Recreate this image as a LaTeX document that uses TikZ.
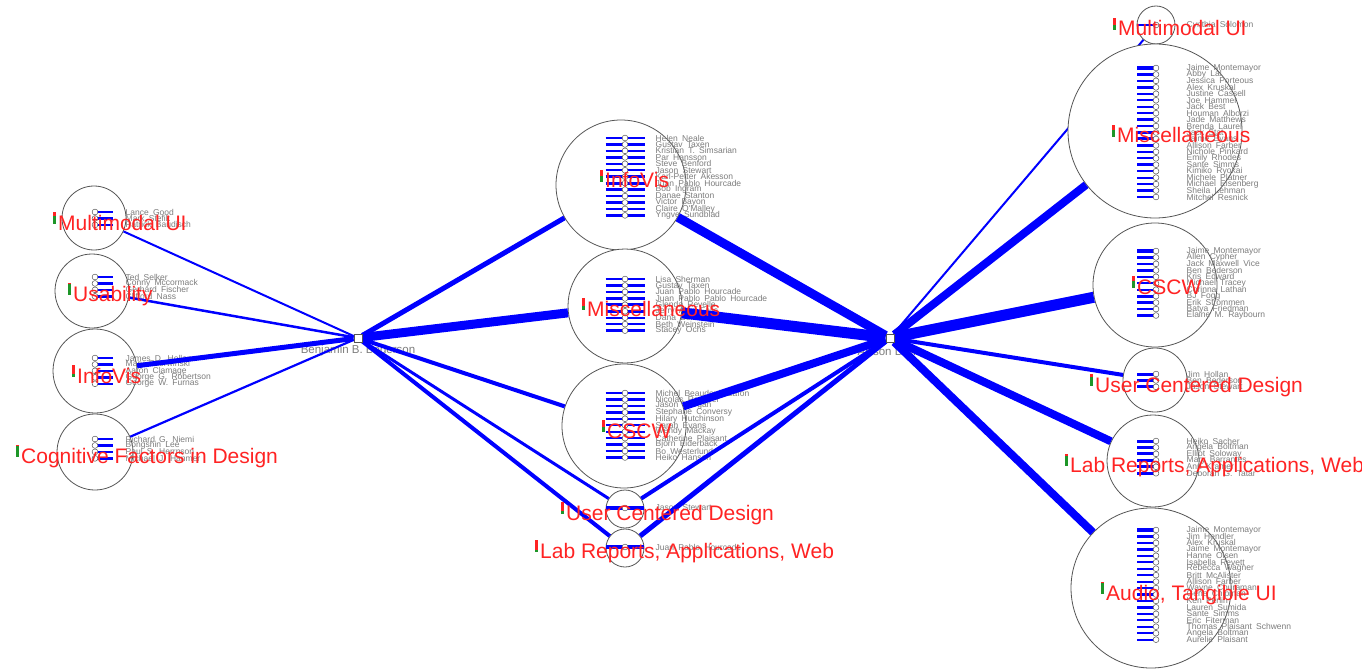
\documentclass[tikz,border=0pt]{standalone}
\usepackage{fontspec}
\setmainfont{Liberation Sans}
\newfontfamily\namefont[WordSpace=1.8]{Liberation Sans}

\definecolor{catred}{RGB}{255,35,35}
\definecolor{catgreen}{RGB}{30,150,40}
\definecolor{edgeblue}{RGB}{0,0,255}
\definecolor{namegray}{RGB}{125,125,125}
\definecolor{ringgray}{RGB}{85,85,85}

\pgfdeclarelayer{bottom}
\pgfdeclarelayer{edges}
\pgfdeclarelayer{top}
\pgfsetlayers{bottom,main,edges,top}

\tikzset{
  group/.style={circle, draw=ringgray, line width=0.8pt, fill=white, inner sep=0pt, minimum size=#1},
  link/.style={draw=edgeblue, line width=#1},
  hub/.style={rectangle, draw=ringgray, fill=white, minimum size=8pt, inner sep=0pt, line width=0.8pt},
  hubname/.style={font=\fontsize{11.5}{11.5}\selectfont, text=namegray, inner sep=0pt},
  member/.style={font=\namefont\fontsize{8.5}{8.5}\selectfont, text=namegray, anchor=west, inner sep=0pt},
  memberdot/.style={circle, draw=ringgray, fill=white, minimum size=5.8pt, inner sep=0pt, line width=0.5pt},
  category/.style={font=\fontsize{21}{21}\selectfont, text=catred, anchor=base west, inner sep=0pt},
}

% one row per member: bar, dot and name; #1 dot x, #2 first row y,
% #3/#4 bar ends, #5 list of bar width/name
\newcommand\roster[5]{%
  \foreach \w/\who [count=\k from 0] in {#5}{%
    \pgfmathsetmacro\rowy{#2+6.45*\k}%
    \draw[edgeblue, line width=\w pt] (#3,\rowy) -- (#4,\rowy);
    \node[memberdot] at (#1,\rowy) {};
    \node[member] at (#1+30.5,\rowy) {\who};
  }}

% topic caption with its small red/green share bar
\newcommand\category[5]{%
  \node[category] (#1) at (#2,#3) {#5};
  \pgfmathsetmacro\splity{#3-18+12*#4}%
  \fill[catred] (#2-5,#3-18) rectangle (#2-2,\splity);
  \fill[catgreen] (#2-5,\splity) rectangle (#2-2,#3-6);
}

\begin{document}
\begin{tikzpicture}[x=1pt,y=-1pt]
\useasboundingbox (0,0) rectangle (1370,671);
\begin{pgfonlayer}{bottom}
  \fill[white] (0,0) rectangle (1370,671);
\end{pgfonlayer}

% the two authors
\begin{pgfonlayer}{top}
  \node[hub] (B) at (358,338) {};
  \node[hub] (D) at (890,338) {};
\end{pgfonlayer}
\node[hubname] (Bname) at (358,351) {Benjamin B. Bederson};
\node[hubname] (Dname) at (890,351) {Allison Druin};

% topic circles
\node[group=64pt]  (L1) at (94,218) {};
\node[group=74pt]  (L2) at (92,291) {};
\node[group=84pt]  (L3) at (95,371) {};
\node[group=76pt]  (L4) at (95,452) {};
\node[group=130pt] (M1) at (621,185) {};
\node[group=114pt] (M2) at (625,306) {};
\node[group=124pt] (M3) at (624,426) {};
\node[group=38pt]  (M4) at (625,509) {};
\node[group=38pt]  (M5) at (625,548) {};
\node[group=38pt]  (R1) at (1156,25) {};
\node[group=174pt] (R2) at (1155,131) {};
\node[group=124pt] (R3) at (1155,285) {};
\node[group=64pt]  (R4) at (1155,380) {};
\node[group=92pt]  (R5) at (1153,461) {};
\node[group=160pt] (R6) at (1151,588) {};

% members of each topic
\roster{95}{212}{95}{113}{2.4/Lance Good, 2.4/Mark Stefik, 2.4/Patrick Baudisch}
\roster{95}{277}{95}{113}{2.4/Ted Selker, 2.4/Conny Mccormack, 2.4/Gerhard Fischer, 2.4/Clifford Nass}
\roster{95}{358}{95}{113}{2.4/James D. Hollan, 2.4/Mary Czerwinski, 2.4/Aaron Clamage, 2.4/George G. Robertson, 2.4/George W. Furnas}
\roster{95}{439}{95}{113}{2.4/Richard G. Niemi, 2.4/Bongshin Lee, 2.4/Paul S. Herrnson, 2.4/Michael J. Hanmer}

\roster{625}{138}{605.5}{644.5}{2.4/Helen Neale, 2.4/Gustav Taxen, 2.4/Kristian T. Simsarian, 2.4/Par Hansson, 2.4/Steve Benford, 2.4/Jason Stewart, 2.4/Karl-Petter Akesson, 3/Juan Pablo Hourcade, 2.4/Bob Ingram, 2.4/Danae Stanton, 2.4/Victor Bayon, 2.4/Claire O'Malley, 2.4/Yngve Sundblad}
\roster{625}{279}{605.5}{644.5}{2.4/Lisa Sherman, 2.4/Gustav Taxen, 2.4/Juan Pablo Hourcade, 2.4/Juan Pablo Pablo Hourcade, 3/Glenda Revelle, 3/Jerry Alan Fails, 2.4/Dana Bolt, 2.4/Beth Weinstein, 2.4/Stacey Ochs}
\roster{625}{393}{605.5}{644.5}{2.4/Michel Beaudouin-Lafon, 2.4/Nicolas Roussel, 2.4/Jason Morgan, 2.4/Stephane Conversy, 2.4/Hilary Hutchinson, 2.4/Sarah Evans, 2.4/Wendy Mackay, 2.4/Catherine Plaisant, 2.4/Bjorn Eiderback, 2.4/Bo Westerlund, 2.4/Heiko Hansen}
\roster{625}{508}{606}{644}{3.5/Jason Stewart}
\roster{625}{547}{606}{644}{4.5/Juan Pablo Hourcade}

\roster{1156}{25}{1137}{1156}{2.4/Cynthia Solomon}
\roster{1156}{68}{1137}{1156}{4.5/Jaime Montemayor, 2.2/Abby Lal, 2.2/Jessica Porteous, 3.5/Alex Kruskal, 2.2/Justine Cassell, 2.2/Joe Hammer, 2.2/Jack Best, 2.2/Houman Alborzi, 2.2/Jade Matthews, 2.2/Brenda Laurel, 2.2/Jack Stat, 3/Jaime Evans, 3/Allison Farber, 2.2/Nichole Pinkard, 2.2/Emily Rhodes, 3.5/Sante Simms, 2.2/Kimiko Ryokai, 2.2/Michele Platner, 2.2/Michael Eisenberg, 2.2/Sheila Lehman, 2.2/Mitchel Resnick}
\roster{1156}{251}{1137}{1156}{4/Jaime Montemayor, 2.2/Allen Cypher, 2.2/Jack Maxwell Vice, 3/Ben Bederson, 2.2/Kris Edward, 2.2/Michael Tracey, 2.2/Corinna Lathan, 3/BJ Fogg, 3/Erik Strommen, 2.2/Batya Friedman, 2.2/Elaine M. Raybourn}
\roster{1156}{374}{1137}{1156}{3/Jim Hollan, 3/Ben Bederson, 3/Jason Stewart}
\roster{1156}{441}{1137}{1156}{3/Heiko Sacher, 3/Angela Boltman, 3/Elliot Soloway, 3/Mary Barrantes, 3/Ann Kramer, 3/Deborah G. Tatar}
\roster{1156}{530}{1137}{1156}{4.5/Jaime Montemayor, 2.2/Jim Hendler, 2.2/Alex Kruskal, 3/Jaime Montemayor, 2.2/Hanne Olsen, 2.2/Isabella Revett, 2.2/Rebecca Wagner, 2.2/Britt McAlister, 2.2/Allison Farber, 2.2/Wayne Churaman, 3/Gene Chipman, 2.2/Ken Perlin, 2.2/Lauren Sumida, 2.2/Sante Simms, 2.2/Eric Fiterman, 2.2/Thomas Plaisant Schwenn, 2.2/Angela Boltman, 2.2/Aurelie Plaisant}

% co-authorship links, width by number of papers
\begin{pgfonlayer}{bottom}
  \draw[link=2pt] (D) -- (R1);
\end{pgfonlayer}
\begin{pgfonlayer}{edges}
  \draw[link=2pt]   (B) -- (L1);
  \draw[link=2.5pt] (B) -- (L2);
  \draw[link=5pt]   (B) -- (L3);
  \draw[link=2.2pt] (B) -- (L4);
  \draw[link=5pt]   (B) -- (M1);
  \draw[link=9pt]   (B) -- (M2);
  \draw[link=4pt]   (B) -- (M3);
  \draw[link=3pt]   (B) -- (M4);
  \draw[link=4pt]   (B) -- (M5);
  \draw[link=9pt]   (D) -- (M1);
  \draw[link=11pt]  (D) -- (M2);
  \draw[link=8pt]   (D) -- (M3);
  \draw[link=4pt]   (D) -- (M4);
  \draw[link=5pt]   (D) -- (M5);
  \draw[link=8pt]   (D) -- (R2);
  \draw[link=11pt]  (D) -- (R3);
  \draw[link=4pt]   (D) -- (R4);
  \draw[link=8pt]   (D) -- (R5);
  \draw[link=8pt]   (D) -- (R6);
\end{pgfonlayer}

% topic captions
\begin{pgfonlayer}{top}
  \category{tL1}{58}{230}{0.3}{Multimodal UI}
  \category{tL2}{73}{301}{0.1}{Usability}
  \category{tL3}{77}{383}{0.75}{InfoVis}
  \category{tL4}{21}{463}{0.1}{Cognitive Factors in Design}
  \category{tM1}{605}{188}{0.5}{InfoVis}
  \category{tM2}{587}{316}{0.65}{Miscellaneous}
  \category{tM3}{607}{438}{0.6}{CSCW}
  \category{tM4}{566}{520}{0.75}{User Centered Design}
  \category{tM5}{540}{558}{0.8}{Lab Reports, Applications, Web}
  \category{tR1}{1118}{36}{0.55}{Multimodal UI}
  \category{tR2}{1117}{143}{0.4}{Miscellaneous}
  \category{tR3}{1137}{294}{0.4}{CSCW}
  \category{tR4}{1095}{392}{0.25}{User Centered Design}
  \begin{scope}
    \clip (0,0) rectangle (1361,671);
    \category{tR5}{1070}{472}{0.15}{Lab Reports, Applications, Web}
  \end{scope}
  \category{tR6}{1106}{600}{0.05}{Audio, Tangible UI}
\end{pgfonlayer}
\end{tikzpicture}
\end{document}
